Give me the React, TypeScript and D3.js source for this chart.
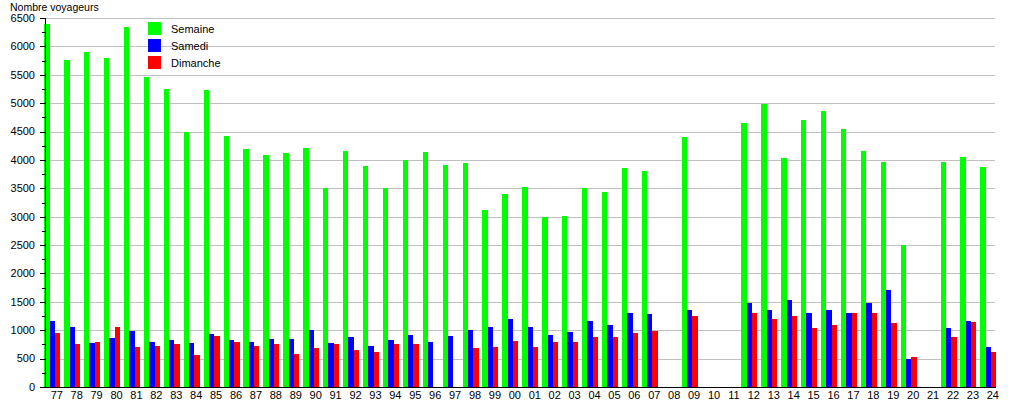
import React from "react";
import * as d3 from "d3";

const years: string[] = [
  "77","78","79","80","81","82","83","84","85","86","87","88","89","90","91",
  "92","93","94","95","96","97","98","99","00","01","02","03","04","05","06","07",
  "08","09","10","11",
  "12","13","14","15","16","17","18","19","20","21","22","23","24",
];

const semaine: (number | null)[] = [
  6400, 5760, 5900, 5800, 6350, 5460, 5250, 4500, 5230, 4420, 4200, 4090, 4120, 4210, 3500,
  4160, 3890, 3500, 4000, 4140, 3910, 3950, 3120, 3400, 3520, 3000, 3010, 3500, 3440, 3860, 3800,
  null, 4400, null, null,
  4650, 4990, 4030, 4700, 4860, 4550, 4160, 3960, 2500, null, 3960, 4050, 3880,
];

const samedi: (number | null)[] = [
  1170, 1050, 780, 870, 990, 800, 830, 780, 940, 820, 800, 850, 840, 1010, 770,
  880, 730, 830, 920, 800, 900, 1010, 1060, 1200, 1060, 920, 970, 1170, 1100, 1310, 1290,
  null, 1360, null, null,
  1480, 1360, 1540, 1300, 1360, 1300, 1480, 1700, 500, null, 1040, 1170, 700,
];

const dimanche: (number | null)[] = [
  960, 750, 800, 1060, 700, 730, 760, 570, 890, 800, 730, 750, 590, 680, 760,
  660, 620, 750, 760, null, null, 680, 710, 810, 710, 800, 800, 880, 880, 960, 980,
  null, 1250, null, null,
  1300, 1200, 1250, 1040, 1100, 1300, 1300, 1130, 520, null, 880, 1150, 620,
];

const seriesNames = ["Semaine", "Samedi", "Dimanche"];
const seriesColors = ["#00ff00", "#0000ff", "#ff0000"];
const yTicks: number[] = d3.range(0, 6501, 500);
const yMinor: number[] = d3.range(250, 6500, 500);
const yTitle = "Nombre voyageurs";

const FONT = "'Liberation Sans', Arial, sans-serif";

export default function App() {
  const W = 1015, H = 400;
  const left = 45, right = 995, top = 18, bottom = 387;
  const x = d3.scaleBand<string>().domain(years).range([44.3, 1000.3]).paddingInner(0).paddingOuter(0);
  const inner = d3.scaleBand<string>().domain(seriesNames).range([0, 16]);
  const y = d3.scaleLinear().domain([0, 6500]).range([bottom, top]);
  const allSeries = [semaine, samedi, dimanche];

  return (
    <svg width={W} height={H} style={{ position: "absolute", left: 0, top: 0, background: "#fff" }}>
      <rect x={0} y={0} width={W} height={H} fill="#fff" />
      {/* gridlines */}
      {yTicks.filter((t) => t > 0).map((t) => (
        <line key={"g" + t} x1={left} x2={right} y1={Math.round(y(t)) + 0.5} y2={Math.round(y(t)) + 0.5} stroke="#c0c0c0" strokeWidth={1} />
      ))}
      {/* bars */}
      {allSeries.map((vals, si) =>
        vals.map((v, i) =>
          v == null ? null : (
            <rect
              key={si + "-" + i}
              x={(x(years[i]) as number) + (inner(seriesNames[si]) as number)}
              width={inner.bandwidth()}
              y={y(v)}
              height={bottom - y(v)}
              fill={seriesColors[si]}
              shapeRendering="crispEdges"
            />
          )
        )
      )}
      {/* y axis */}
      <line x1={left + 0.5} x2={left + 0.5} y1={top} y2={bottom + 1} stroke="#000" />
      {yTicks.map((t) => (
        <g key={"t" + t}>
          <line x1={40} x2={left} y1={Math.round(y(t)) + 0.5} y2={Math.round(y(t)) + 0.5} stroke="#000" />
          <text x={35} y={y(t)} dy="0.35em" textAnchor="end" fontFamily={FONT} fontSize={11} fill="#000">
            {t}
          </text>
        </g>
      ))}
      {yMinor.map((t) => (
        <line key={"m" + t} x1={42} x2={left} y1={Math.round(y(t)) + 0.5} y2={Math.round(y(t)) + 0.5} stroke="#000" />
      ))}
      {/* x axis */}
      <line x1={left} x2={right + 1} y1={bottom + 0.5} y2={bottom + 0.5} stroke="#000" />
      {years.map((c) => (
        <text key={"x" + c} x={(x(c) as number) + 12.5} y={399} textAnchor="middle" fontFamily={FONT} fontSize={11} fill="#000">
          {c}
        </text>
      ))}
      {/* title */}
      <text x={10} y={11} fontFamily={FONT} fontSize={10.5} fill="#000">
        {yTitle}
      </text>
      {/* legend */}
      {seriesNames.map((n, i) => (
        <g key={"l" + n} transform={`translate(148, ${22 + i * 17})`}>
          <rect x={0} y={0} width={13} height={13} fill={seriesColors[i]} />
          <text x={23} y={11} fontFamily={FONT} fontSize={11} fill="#000">
            {n}
          </text>
        </g>
      ))}
    </svg>
  );
}
